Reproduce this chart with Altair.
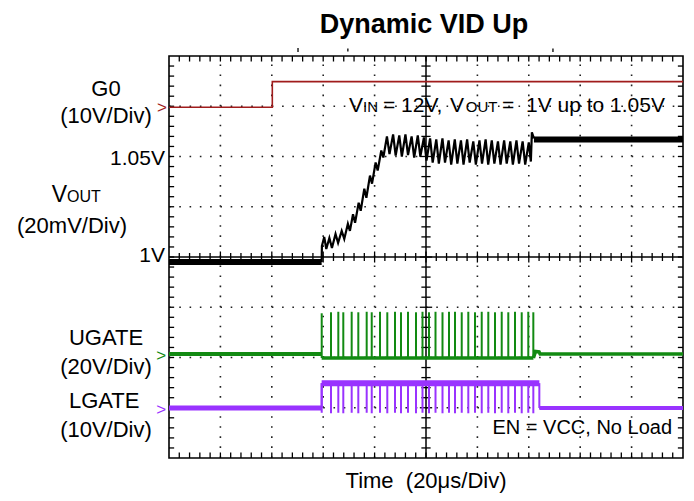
import altair as alt
import pandas as pd

# ---------------- data (time in divisions of 20 us, amplitude in screen divisions) -------------
g0_t = [0.0, 2.01, 2.01, 10.0]
g0_v = [6.98, 6.98, 7.49, 7.49]

vout_pre_t = [0.0, 2.97]
vout_pre_v = [3.90, 3.90]
vout_ripple_t = [2.97, 2.975, 3.02, 3.06, 3.12, 3.17, 3.24, 3.29, 3.36, 3.41, 3.48, 3.52, 3.58, 3.62,
                 3.69, 3.73, 3.80, 3.84, 3.91, 3.95, 4.02, 4.06, 4.13, 4.17, 4.24, 4.29, 4.36, 4.41,
                 4.48, 4.53, 4.60, 4.65, 4.72, 4.77, 4.84, 4.89, 4.96, 5.01, 5.08, 5.13, 5.20, 5.25,
                 5.32, 5.37, 5.44, 5.49, 5.56, 5.61, 5.68, 5.73, 5.80, 5.85, 5.92, 5.97, 6.04, 6.09,
                 6.16, 6.21, 6.28, 6.33, 6.40, 6.45, 6.52, 6.57, 6.64, 6.69, 6.76, 6.81, 6.88, 6.93,
                 7.00, 7.04, 7.06, 7.10]
vout_ripple_v = [3.90, 4.22, 4.40, 4.16, 4.38, 4.18, 4.46, 4.28, 4.52, 4.36, 4.66, 4.52, 4.85, 4.68,
                 5.08, 4.92, 5.36, 5.18, 5.62, 5.46, 5.88, 5.72, 6.12, 5.98, 6.40, 6.05, 6.44, 6.02,
                 6.42, 6.00, 6.44, 6.03, 6.40, 5.98, 6.42, 6.00, 6.38, 5.92, 6.36, 5.88, 6.34, 5.86,
                 6.36, 5.88, 6.32, 5.84, 6.34, 5.86, 6.32, 5.84, 6.34, 5.88, 6.30, 5.84, 6.32, 5.86,
                 6.34, 5.84, 6.32, 5.86, 6.30, 5.84, 6.32, 5.86, 6.30, 5.84, 6.32, 5.86, 6.30, 5.84,
                 6.28, 5.90, 6.48, 6.36]
vout_post_t = [7.10, 10.0]
vout_post_v = [6.34, 6.34]

ugate_pre_t = [0.0, 2.97]
ugate_pre_v = [2.07, 2.07]
ugate_on_t = [2.97, 7.09]
ugate_on_v = [1.99, 1.99]
ugate_post_t = [7.09, 7.13, 7.20, 7.22, 10.0]
ugate_post_v = [1.99, 2.12, 2.11, 2.07, 2.07]

pulse_t = [2.971, 3.152, 3.294, 3.391, 3.554, 3.683, 3.846, 3.944, 4.105, 4.247, 4.397, 4.514,
           4.650, 4.805, 4.932, 5.058, 5.185, 5.321, 5.447, 5.564, 5.695, 5.823, 5.953, 6.084,
           6.212, 6.342, 6.473, 6.601, 6.732, 6.862, 6.990, 7.088]
ugate_top = [2.88, 2.90, 2.91, 2.90, 2.91, 2.90, 2.91, 2.90, 2.91, 2.90, 2.91, 2.90,
             2.91, 2.90, 2.91, 2.90, 2.91, 2.90, 2.91, 2.91, 2.90, 2.91, 2.90, 2.91,
             2.91, 2.90, 2.91, 2.90, 2.91, 2.90, 2.91, 2.90]
lgate_bottom = [0.90, 0.89, 0.90, 0.89, 0.90, 0.89, 0.90, 0.89, 0.90, 0.89, 0.90, 0.89,
                0.90, 0.89, 0.90, 0.89, 0.90, 0.89, 0.90, 0.89, 0.90, 0.89, 0.90, 0.89,
                0.90, 0.89, 0.90, 0.89, 0.90, 0.89, 0.90, 0.89]

lgate_lo1_t = [0.0, 2.97]
lgate_lo1_v = [0.995, 0.995]
lgate_hi_t = [2.97, 7.205]
lgate_hi_v = [1.49, 1.49]
lgate_lo2_t = [7.205, 10.0]
lgate_lo2_v = [0.995, 0.995]
lgate_edge_t = [2.97, 2.97, 7.205, 7.205]
lgate_edge_v = [0.995, 1.49, 1.49, 0.995]

label_text = ["G0", "(10V/Div)", "(20mV/Div)", "UGATE", "(20V/Div)", "LGATE", "(10V/Div)"]
level_text = ["1.05V", "1V"]
vout_main, vout_sub = "V", "OUT"
note1_main = ["V", "= 12V,", "V", "=\u00a0 1V up to 1.05V"]
note1_sub = ["IN", "OUT"]
note2 = "EN = VCC, No Load"
title_text = "Dynamic VID Up"
xlabel_text = "Time\u00a0 (20\u03bcs/Div)"
marker_text = [">", ">", ">"]

# ---------------- colours ----------------
RED = "#a01c1c"
GREEN = "#128a12"
PURPLE = "#9933ff"
BLACK = "#000000"
FONT = "Liberation Sans"

X = lambda f="t": alt.X(f"{f}:Q", scale=alt.Scale(domain=[0, 10], nice=False, zero=False), axis=None)
Y = lambda f="v": alt.Y(f"{f}:Q", scale=alt.Scale(domain=[0, 8], nice=False, zero=False), axis=None)


def line(t, v, color, width):
    df = pd.DataFrame({"t": t, "v": v, "i": list(range(len(t)))})
    return alt.Chart(df).mark_line(color=color, strokeWidth=width, strokeJoin="miter").encode(
        x=X(), y=Y(), order="i:Q")


# ---------------- grid, centre axes and tick marks ----------------
grid_v = pd.DataFrame({"t": [1, 2, 3, 4, 6, 7, 8, 9], "a": 0, "b": 8})
grid_h = pd.DataFrame({"v": [1, 2, 3, 5, 6, 7], "a": 0, "b": 10})
gv = alt.Chart(grid_v).mark_rule(color="#222", strokeWidth=1.6, strokeDash=[1.6, 8.45]).encode(
    x=X(), y=Y("a"), y2="b:Q")
gh = alt.Chart(grid_h).mark_rule(color="#222", strokeWidth=1.6, strokeDash=[1.6, 8.68]).encode(
    y=Y(), x=X("a"), x2="b:Q")

axes_df = pd.DataFrame({"x1": [0, 5], "x2": [10, 5], "y1": [4, 0], "y2": [4, 8]})
axes = alt.Chart(axes_df).mark_rule(color=BLACK, strokeWidth=1.5).encode(
    x=X("x1"), x2="x2:Q", y=Y("y1"), y2="y2:Q")

rows = []
for i in range(1, 50):
    xi = i * 0.2
    rows.append((xi, xi, 8, 7.89))
    rows.append((xi, xi, 0, 0.11))
    big = 0.11 if i % 5 == 0 else 0.08
    rows.append((xi, xi, 4 - big, 4 + big))
for i in range(1, 40):
    yi = i * 0.2
    rows.append((0, 0.1, yi, yi))
    rows.append((10, 9.9, yi, yi))
    big = 0.12 if i % 5 == 0 else 0.09
    rows.append((5 - big, 5 + big, yi, yi))
rows += [(2.51, 2.51, 8.08, 8.16), (3.48, 3.48, 8.09, 8.15), (7.47, 7.47, 8.08, 8.15)]
ticks_df = pd.DataFrame(rows, columns=["x1", "x2", "y1", "y2"])
ticks = alt.Chart(ticks_df).mark_rule(color=BLACK, strokeWidth=1.3).encode(
    x=X("x1"), x2="x2:Q", y=Y("y1"), y2="y2:Q")

# ---------------- traces ----------------
g0 = line(g0_t, g0_v, RED, 1.6)
vout_a = line(vout_pre_t, vout_pre_v, BLACK, 6)
vout_b = line(vout_ripple_t, vout_ripple_v, BLACK, 2.2)
vout_c = line(vout_post_t, vout_post_v, BLACK, 6)

ug_a = line(ugate_pre_t, ugate_pre_v, GREEN, 4)
ug_b = line(ugate_on_t, ugate_on_v, GREEN, 3.5)
ug_c = line(ugate_post_t, ugate_post_v, GREEN, 3.5)
pulses = pd.DataFrame({"t": pulse_t, "top": ugate_top, "bot": lgate_bottom})
ug_p = alt.Chart(pulses).transform_calculate(base="1.99").mark_rule(
    color=GREEN, strokeWidth=2).encode(x=X(), y=Y("base"), y2="top:Q")

lg_a = line(lgate_lo1_t, lgate_lo1_v, PURPLE, 5)
lg_b = line(lgate_hi_t, lgate_hi_v, PURPLE, 6)
lg_c = line(lgate_lo2_t, lgate_lo2_v, PURPLE, 4)
lg_e = alt.Chart(pd.DataFrame({"t": lgate_edge_t, "v": lgate_edge_v, "g": [0, 0, 1, 1]})).mark_line(
    color=PURPLE, strokeWidth=2).encode(x=X(), y=Y(), detail="g:N")
lg_p = alt.Chart(pulses).transform_calculate(hi="1.49").mark_rule(
    color=PURPLE, strokeWidth=2).encode(x=X(), y=Y("hi"), y2="bot:Q")

# ---------------- texts ----------------
def texts(items, size, align="center", weight="normal", color=BLACK, baseline="alphabetic"):
    df = pd.DataFrame(items, columns=["label", "t", "v"])
    return alt.Chart(df).mark_text(fontSize=size, align=align, baseline=baseline, font=FONT,
                                   fontWeight=weight, color=color).encode(
        x=X(), y=Y(), text="label:N")


left = texts([(label_text[0], -1.226, 7.204), (label_text[1], -1.226, 6.667),
              (label_text[2], -1.887, 4.472), (label_text[3], -1.226, 2.249),
              (label_text[4], -1.226, 1.672), (label_text[5], -1.26, 0.989),
              (label_text[6], -1.226, 0.424)], 22)
levels = texts([(level_text[0], -0.078, 5.831), (level_text[1], -0.078, 3.907)], 21, align="right")
vmain = texts([(vout_main, -1.984, 5.094)], 23, align="right")
vsub = texts([(vout_sub, -1.984, 5.094)], 16, align="left")
n1 = texts([(note1_main[0], 3.502, 6.892), (note1_main[1], 4.163, 6.892),
            (note1_main[2], 5.467, 6.892), (note1_main[3], 6.479, 6.892)], 21, align="left")
n1s = texts([(note1_sub[0], 3.774, 6.892), (note1_sub[1], 5.775, 6.892)], 15, align="left")
n2 = texts([(note2, 9.786, 0.478)], 20, align="right")
ttl = texts([(title_text, 4.961, 8.458)], 27, weight="bold")
xl = texts([(xlabel_text, 5.0, -0.60)], 22)
mk_r = texts([(marker_text[0], -0.136, 6.975)], 17, color=RED, baseline="middle")
mk_g = texts([(marker_text[1], -0.15, 2.02)], 17, color=GREEN, baseline="middle")
mk_p = texts([(marker_text[2], -0.15, 0.965)], 17, color=PURPLE, baseline="middle")

chart = alt.layer(
    gv, gh, axes, ticks,
    g0, vout_a, vout_b, vout_c,
    ug_a, ug_b, ug_c, ug_p,
    lg_p, lg_a, lg_b, lg_c, lg_e,
    left, levels, vmain, vsub, n1, n1s, n2, ttl, xl, mk_r, mk_g, mk_p,
).properties(
    width=514, height=402,
    padding={"left": 161, "top": 48, "right": 3, "bottom": 35},
    autosize=alt.AutoSizeParams(type="none"),
    background="white",
).configure_view(stroke=BLACK, strokeWidth=1.6)

chart.save("out.html", embed_options={"renderer": "svg", "actions": False})
